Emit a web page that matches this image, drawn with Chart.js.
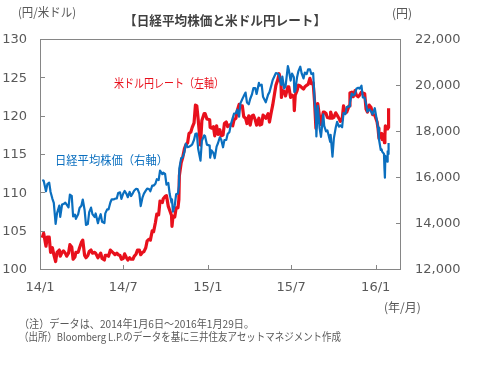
<!DOCTYPE html>
<html>
<head>
<meta charset="utf-8">
<script src="https://cdn.jsdelivr.net/npm/chart.js@4"></script>
<style>
html, body { margin: 0; padding: 0; background: #fff; }
canvas { display: block; }
</style>
</head>
<body>
<canvas id="chart1" width="479" height="370"></canvas>
<script>
// observation dates (about two per week)
const dates = [
  '2014-01-06','2014-01-09','2014-01-14','2014-01-17','2014-01-21','2014-01-24','2014-01-28','2014-01-31',
  '2014-02-04','2014-02-07','2014-02-12','2014-02-14','2014-02-18','2014-02-21','2014-02-25','2014-02-28',
  '2014-03-04','2014-03-07','2014-03-11','2014-03-14','2014-03-18','2014-03-20','2014-03-25','2014-03-28',
  '2014-04-01','2014-04-04','2014-04-08','2014-04-11','2014-04-15','2014-04-18','2014-04-22','2014-04-25',
  '2014-04-30','2014-05-02','2014-05-07','2014-05-09','2014-05-13','2014-05-16','2014-05-21','2014-05-23',
  '2014-05-27','2014-05-30','2014-06-03','2014-06-06','2014-06-10','2014-06-13','2014-06-17','2014-06-20',
  '2014-06-24','2014-06-27','2014-07-01','2014-07-04','2014-07-08','2014-07-11','2014-07-15','2014-07-18',
  '2014-07-22','2014-07-25','2014-07-29','2014-08-01','2014-08-05','2014-08-08','2014-08-12','2014-08-15',
  '2014-08-19','2014-08-22','2014-08-26','2014-08-29','2014-09-02','2014-09-05','2014-09-09','2014-09-12',
  '2014-09-16','2014-09-19','2014-09-24','2014-09-26','2014-09-30','2014-10-03','2014-10-07','2014-10-10',
  '2014-10-14','2014-10-15','2014-10-17','2014-10-21','2014-10-24','2014-10-28','2014-10-30','2014-10-31',
  '2014-11-04','2014-11-07','2014-11-11','2014-11-14','2014-11-18','2014-11-21','2014-11-25','2014-11-28',
  '2014-12-02','2014-12-05','2014-12-08','2014-12-11','2014-12-16','2014-12-19','2014-12-24','2014-12-26',
  '2014-12-30',
  '2015-01-05','2015-01-06','2015-01-09','2015-01-13','2015-01-16','2015-01-20','2015-01-23','2015-01-27',
  '2015-01-30','2015-02-03','2015-02-06','2015-02-10','2015-02-13','2015-02-17','2015-02-20','2015-02-24',
  '2015-02-27','2015-03-03','2015-03-06','2015-03-10','2015-03-13','2015-03-17','2015-03-20','2015-03-24',
  '2015-03-27','2015-03-31','2015-04-03','2015-04-07','2015-04-10','2015-04-14','2015-04-17','2015-04-22',
  '2015-04-24','2015-04-28','2015-05-01','2015-05-07','2015-05-12','2015-05-15','2015-05-19','2015-05-22',
  '2015-05-26','2015-05-29','2015-06-02','2015-06-05','2015-06-09','2015-06-10','2015-06-12','2015-06-16',
  '2015-06-19','2015-06-24','2015-06-26','2015-06-30','2015-07-03','2015-07-07','2015-07-08','2015-07-10',
  '2015-07-14','2015-07-17','2015-07-21','2015-07-24','2015-07-28','2015-07-31','2015-08-04','2015-08-07',
  '2015-08-11','2015-08-14','2015-08-18','2015-08-21','2015-08-24','2015-08-25','2015-08-28','2015-09-01',
  '2015-09-04','2015-09-09','2015-09-11','2015-09-15','2015-09-18','2015-09-24','2015-09-25','2015-09-29',
  '2015-10-02','2015-10-06','2015-10-09','2015-10-13','2015-10-16','2015-10-20','2015-10-23','2015-10-27',
  '2015-10-30','2015-11-04','2015-11-06','2015-11-10','2015-11-13','2015-11-17','2015-11-20','2015-11-24',
  '2015-11-27','2015-12-01','2015-12-04','2015-12-08','2015-12-11','2015-12-14','2015-12-18','2015-12-22',
  '2015-12-25','2015-12-30',
  '2016-01-04','2016-01-06','2016-01-08','2016-01-12','2016-01-14','2016-01-15','2016-01-19','2016-01-20',
  '2016-01-21','2016-01-22','2016-01-26','2016-01-27','2016-01-28','2016-01-29'
];

// 米ドル円レート (円/米ドル, left axis)
const usdJpy = [
  104.2,104.8,103.1,104.3,104.3,102.3,102.9,102.0,
  101.1,102.3,102.6,101.8,102.3,102.5,102.2,101.8,
  102.2,103.3,103.0,101.4,101.7,102.3,102.3,102.9,
  103.6,103.9,101.9,101.6,101.9,102.4,102.6,102.2,
  102.3,102.2,101.6,101.8,102.2,101.5,101.3,101.9,
  101.9,101.8,102.6,102.4,102.2,102.0,102.2,102.0,
  101.9,101.4,101.5,102.1,101.6,101.3,101.6,101.4,
  101.4,101.8,102.1,102.6,102.6,102.0,102.3,102.4,
  102.9,103.8,104.0,103.9,105.1,105.0,106.2,107.3,
  107.2,109.0,108.8,109.3,109.6,109.7,108.3,107.8,
  107.1,105.7,106.9,106.9,108.1,108.1,109.2,112.3,
  114.0,114.6,115.8,116.3,116.6,117.8,118.0,118.6,
  119.2,121.5,121.4,119.6,116.3,119.5,120.4,120.4,
  119.7,
  119.6,118.6,118.5,118.7,117.5,118.8,117.7,118.3,
  117.5,117.6,119.1,119.3,118.7,118.9,119.0,118.8,
  119.6,119.8,120.8,121.6,121.4,121.4,120.0,119.8,
  119.1,120.1,118.9,120.1,120.2,119.6,118.9,119.8,
  118.9,119.0,120.2,119.8,120.4,119.3,120.6,121.5,
  123.0,124.1,124.8,125.6,124.4,122.5,123.4,123.3,
  122.7,123.9,123.9,122.5,122.8,122.6,120.8,122.8,
  123.4,124.1,124.0,123.8,123.6,123.9,124.1,124.2,
  125.0,124.3,124.4,122.0,118.5,119.0,121.7,119.9,
  119.0,120.6,120.6,120.4,119.9,119.8,120.6,119.8,
  119.9,120.5,120.2,119.8,119.4,119.6,121.4,120.5,
  120.6,121.4,123.1,123.2,122.6,123.4,122.8,122.6,
  122.8,123.2,123.1,123.0,121.0,120.6,121.5,121.2,
  120.3,120.2,
  119.3,118.5,117.2,117.7,117.8,117.0,117.7,116.6,
  117.6,118.8,118.4,118.5,118.6,121.1
];

// 日経平均株価 (円, right axis)
const nikkei = [
  15908,15880,15422,15734,15796,15391,15095,14915,
  14009,14463,14800,14313,14843,14866,14924,14841,
  14721,15274,15224,14327,14411,14224,14423,14696,
  14791,15063,14606,13960,13996,14516,14712,14429,
  14304,14457,14033,14199,14425,14097,14042,14462,
  14636,14632,14935,15077,15069,15097,15115,15349,
  15376,15095,15326,15437,15314,15164,15395,15215,
  15343,15457,15529,15523,15320,14778,15161,15318,
  15450,15539,15521,15425,15668,15669,15749,15948,
  15911,16321,16167,16229,16174,15709,15784,15300,
  14936,15073,14532,14804,15291,15330,15658,16413,
  16862,16880,17124,17490,17344,17357,17407,17459,
  17663,17920,17935,17257,16755,17621,17854,17818,
  17450,
  17408,16883,17198,17087,16864,17366,17511,17768,
  17674,17335,17648,17652,17913,18004,18332,18603,
  18798,18815,18971,18665,19254,19437,19560,19714,
  19286,19207,19435,19641,19907,19908,19653,20133,
  20020,20059,19531,19292,19624,19733,20026,20264,
  20437,20563,20543,20461,20096,20046,20407,19890,
  19990,20868,20706,20236,20539,20376,19737,19780,
  20385,20650,20841,20544,20329,20585,20520,20724,
  20720,20520,20554,19436,18540,17806,19136,18166,
  17792,18770,18264,18026,18070,17571,17880,16931,
  17725,18186,18438,18234,18291,18207,18826,18777,
  19083,19116,19265,19671,19597,19649,19879,19924,
  19883,20012,19504,19492,19230,18883,18986,18886,
  18769,19034,
  18451,18191,17698,17219,17240,17147,17048,16416,
  16017,16959,16709,17163,17041,17518
];

const xTickDates = ['2014-01-01', '2014-07-01', '2015-01-01', '2015-07-01', '2016-01-01'];
const xTickLabels = ['14/1', '14/7', '15/1', '15/7', '16/1'];
const xAxisEnd = '2016-02-25';

const dayOf = s => (Date.parse(s) - Date.parse('2014-01-01')) / 86400000;

const tickFont = { family: 'DejaVu Sans', size: 13 };
const tickColor = '#595959';
const jp = '"Noto Sans CJK JP", sans-serif';

function text(ctx, str, x, y, font, color, align, maxW) {
    ctx.font = font;
    ctx.fillStyle = color;
    ctx.textAlign = align || 'left';
    ctx.textBaseline = 'middle';
    if (maxW) ctx.fillText(str, x, y, maxW);
    else ctx.fillText(str, x, y);
}

// frame, inward tick marks and the extra texts
const decor = {
    id: 'decor',
    afterDraw(chart) {
        const { ctx, chartArea: a, scales } = chart;
        ctx.save();
        ctx.strokeStyle = '#868686';
        ctx.lineWidth = 1;
        ctx.strokeRect(a.left + 0.5, a.top - 0.5, a.right - a.left - 1, a.bottom - a.top);
        ctx.beginPath();
        scales.y.ticks.forEach(t => {
            const py = Math.round(scales.y.getPixelForValue(t.value)) - 0.5;
            ctx.moveTo(a.left, py); ctx.lineTo(a.left + 5, py);
        });
        scales.y1.ticks.forEach(t => {
            const py = Math.round(scales.y1.getPixelForValue(t.value)) - 0.5;
            ctx.moveTo(a.right - 5, py); ctx.lineTo(a.right, py);
        });
        scales.x.ticks.forEach(t => {
            const px = Math.round(scales.x.getPixelForValue(t.value)) + 0.5;
            ctx.moveTo(px, a.bottom); ctx.lineTo(px, a.bottom - 5);
        });
        ctx.stroke();

        text(ctx, '【日経平均株価と米ドル円レート】', 225, 20, 'bold 13px ' + jp, '#404040', 'center', 202);
        text(ctx, '(円/米ドル)', 18, 12, '12px ' + jp, tickColor, 'left', 58);
        text(ctx, '(円)', 392, 13, '12px ' + jp, tickColor, 'left', 24);
        text(ctx, '(年/月)', 384, 307, '12px ' + jp, tickColor, 'left', 40);
        text(ctx, '米ドル円レート（左軸）', 114, 83, '12px ' + jp, '#e8101c', 'left', 110);
        text(ctx, '日経平均株価（右軸）', 55, 160, '12px ' + jp, '#0b6fbf', 'left', 113);
        text(ctx, '（注）データは、2014年1月6日～2016年1月29日。', 19, 324, '11px ' + jp, tickColor, 'left', 235);
        text(ctx, '（出所）Bloomberg L.P.のデータを基に三井住友アセットマネジメント作成', 19, 337, '11px ' + jp, tickColor, 'left', 322);
        ctx.restore();
    }
};

let chart = new Chart('chart1', {
    type: 'line',
    data: {
        datasets: [
            {
                label: '日経平均株価',
                data: dates.map((d, i) => ({ x: dayOf(d), y: nikkei[i] })),
                yAxisID: 'y1',
                borderColor: '#0b6fbf',
                borderWidth: 2.2
            },
            {
                label: '米ドル円レート',
                data: dates.map((d, i) => ({ x: dayOf(d), y: usdJpy[i] })),
                yAxisID: 'y',
                borderColor: '#e8101c',
                borderWidth: 3.2
            }
        ]
    },
    options: {
        responsive: false,
        animation: false,
        devicePixelRatio: 1,
        layout: { padding: { top: 40, bottom: 70, left: 0, right: 0 } },
        elements: {
            point: { radius: 0 },
            line: { tension: 0, borderJoinStyle: 'round' }
        },
        plugins: {
            legend: { display: false },
            tooltip: { enabled: false }
        },
        scales: {
            x: {
                type: 'linear',
                min: 0,
                max: dayOf(xAxisEnd),
                grid: { display: false, drawTicks: false },
                border: { display: false },
                afterBuildTicks: s => { s.ticks = xTickDates.map(d => ({ value: dayOf(d) })) },
                ticks: {
                    autoSkip: false,
                    maxRotation: 0,
                    padding: 10,
                    font: tickFont,
                    color: tickColor,
                    callback: (v, i) => xTickLabels[i]
                },
                afterFit: s => { s.height = 30 }
            },
            y: {
                position: 'left',
                min: 100,
                max: 130,
                grid: { display: false, drawTicks: false },
                border: { display: false },
                ticks: { stepSize: 5, padding: 13, font: tickFont, color: tickColor },
                afterFit: s => { s.width = 40 }
            },
            y1: {
                position: 'right',
                min: 12000,
                max: 22000,
                grid: { display: false, drawTicks: false },
                border: { display: false },
                ticks: {
                    stepSize: 2000,
                    padding: 14,
                    font: tickFont,
                    color: tickColor,
                    callback: v => v.toString().replace(/\B(?=(\d{3})+(?!\d))/g, ',')
                },
                afterFit: s => { s.width = 78 }
            }
        }
    },
    plugins: [decor]
});
</script>
</body>
</html>
